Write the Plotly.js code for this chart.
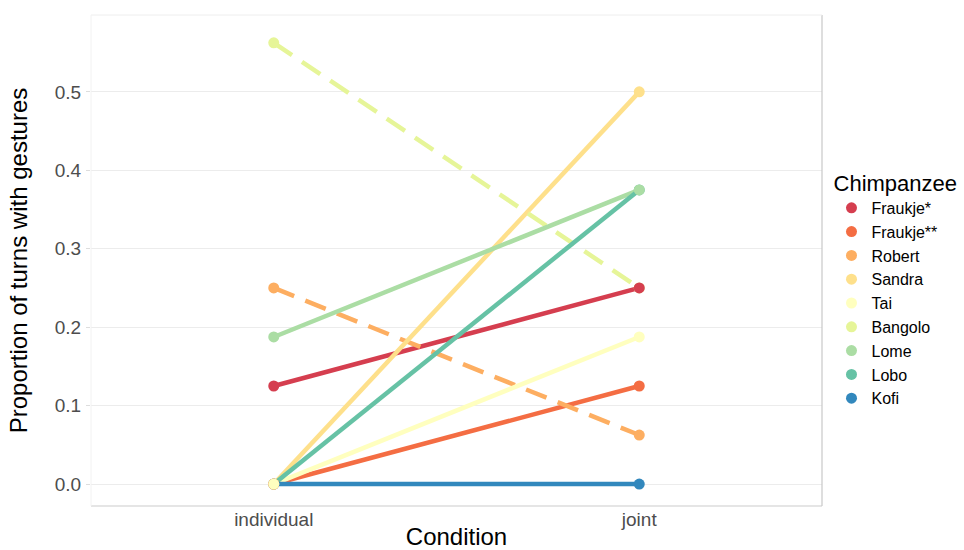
<!DOCTYPE html>
<html>
<head>
<meta charset="utf-8">
<script src="https://cdn.plot.ly/plotly-3.0.1.min.js"></script>
<style>html,body{margin:0;padding:0;background:#fff;}#chart{width:964px;height:550px;}</style>
</head>
<body>
<div id="chart"></div>
<script>
const conditions = ["individual", "joint"];
const chimps = ["Fraukje*", "Fraukje**", "Robert", "Sandra", "Tai", "Bangolo", "Lome", "Lobo", "Kofi"];
const individualVals = [0.125, 0, 0.25, 0, 0, 0.5625, 0.1875, 0, 0];
const jointVals = [0.25, 0.125, 0.0625, 0.5, 0.1875, 0.25, 0.375, 0.375, 0];
const dashed = [false, false, true, false, false, true, false, false, false];
const colors = ["#D53E4F", "#F46D43", "#FDAE61", "#FEE08B", "#FFFFBF", "#E6F598", "#ABDDA4", "#66C2A5", "#3288BD"];
const yTicks = [0, 0.1, 0.2, 0.3, 0.4, 0.5];
const yTickText = ["0.0", "0.1", "0.2", "0.3", "0.4", "0.5"];

const traces = [];
chimps.forEach((name, i) => {
  traces.push({
    x: conditions, y: [individualVals[i], jointVals[i]],
    mode: "lines", type: "scatter", showlegend: false, hoverinfo: "skip",
    line: {color: colors[i], width: 4.5, dash: dashed[i] ? "22px,12px" : "solid"}
  });
});
const pointOrder = [8, 7, 6, 5, 3, 2, 1, 0, 4];
pointOrder.forEach(i => {
  traces.push({
    x: conditions, y: [individualVals[i], jointVals[i]],
    mode: "markers", type: "scatter", name: chimps[i], legendrank: i + 1,
    marker: {color: colors[i], size: 11}
  });
});

const font = "Liberation Sans, Arial, sans-serif";
const layout = {
  width: 964, height: 550,
  margin: {l: 91, r: 142, t: 15, b: 44, autoexpand: false},
  paper_bgcolor: "#fff", plot_bgcolor: "#fff",
  font: {family: font, color: "#4d4d4d"},
  xaxis: {
    type: "category", range: [-0.5, 1.5],
    showgrid: false, zeroline: false, showline: false,
    ticks: "", tickfont: {size: 19, color: "#4d4d4d"},
    title: {text: "Condition", font: {size: 24, color: "#000"}, standoff: 2}
  },
  yaxis: {
    range: [-0.028, 0.598], tickvals: yTicks, ticktext: yTickText,
    showgrid: true, gridcolor: "#ececec", gridwidth: 1, zeroline: false,
    ticks: "outside", ticklen: 4, tickcolor: "#dddddd", tickwidth: 1,
    tickfont: {size: 19, color: "#4d4d4d"}, ticklabelstandoff: 1,
    title: {text: "Proportion of turns with gestures", font: {size: 24, color: "#000"}, standoff: 20}
  },
  legend: {
    x: 1.013, xanchor: "left", y: 0.70, yanchor: "top",
    title: {text: "Chimpanzee", font: {size: 22, color: "#000"}},
    font: {size: 16, color: "#000"}, tracegroupgap: 0, itemwidth: 30
  },
  shapes: [
    {type: "line", xref: "paper", yref: "paper", x0: 0, x1: 1, y0: 0, y1: 0, line: {color: "#cccccc", width: 1.2}},
    {type: "line", xref: "paper", yref: "paper", x0: 1, x1: 1, y0: 0, y1: 1, line: {color: "#c8c8c8", width: 1.2}},
    {type: "line", xref: "paper", yref: "paper", x0: 0, x1: 1, y0: 1, y1: 1, line: {color: "#eeeeee", width: 1}},
    {type: "line", xref: "paper", yref: "paper", x0: 0, x1: 0, y0: 0, y1: 1, line: {color: "#f2f2f2", width: 1}}
  ]
};
Plotly.newPlot("chart", traces, layout, {displayModeBar: false, staticPlot: true});
</script>
</body>
</html>
